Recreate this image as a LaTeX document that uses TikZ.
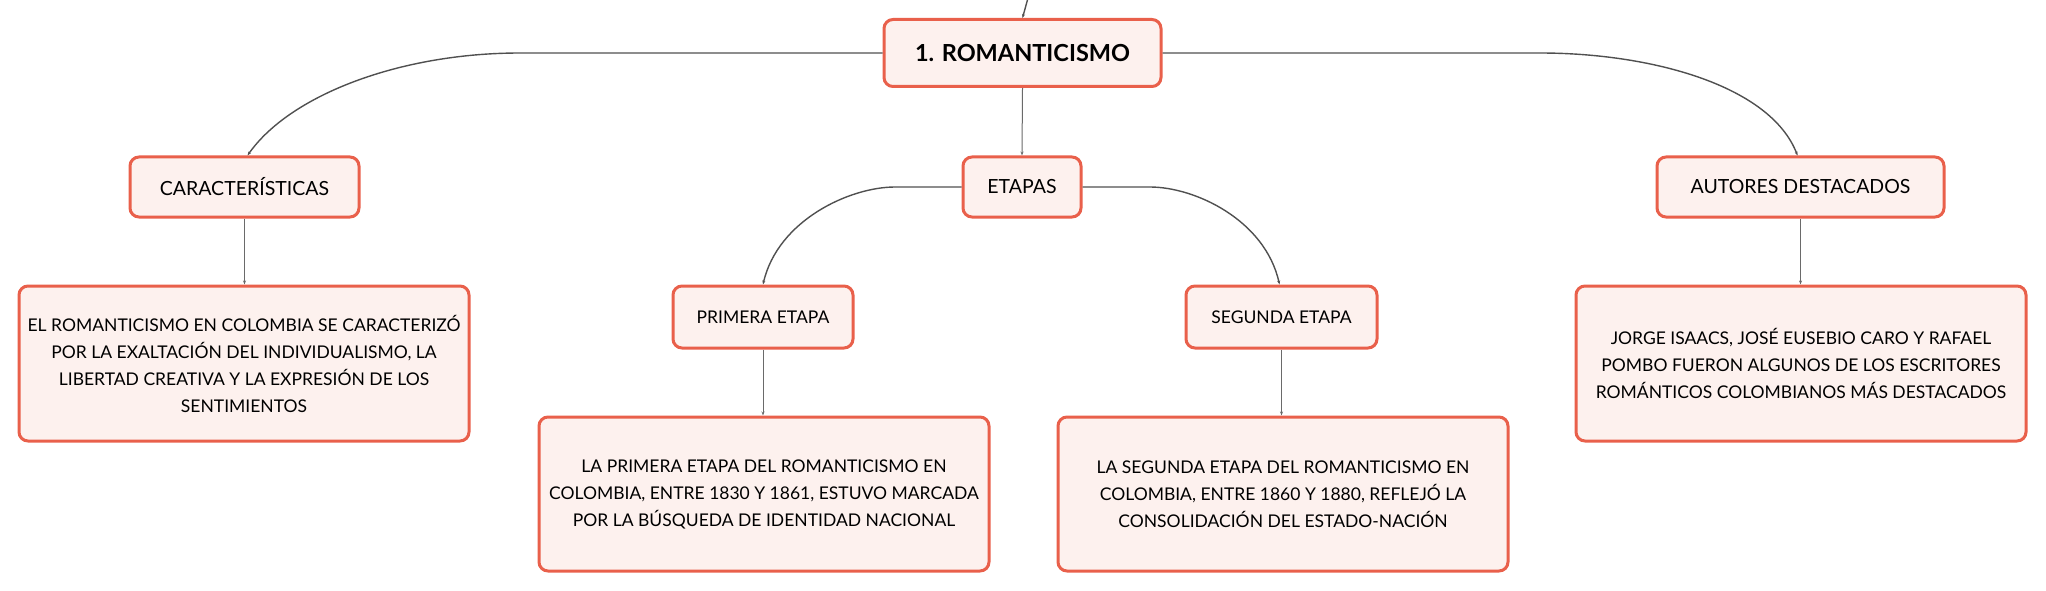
\documentclass[tikz,border=0pt]{standalone}
\usepackage{fontspec}
\setmainfont{Lato}
\usetikzlibrary{arrows.meta}
\definecolor{bord}{HTML}{E9604B}
\definecolor{boxfill}{HTML}{FDF1EE}
\definecolor{linec}{HTML}{505050}
\definecolor{vlinec}{HTML}{6A6A6A}
\begin{document}
\begin{tikzpicture}[x=1pt,y=-1pt,
  box/.style={draw=bord, line width=3pt, fill=boxfill, rounded corners=9pt,
    inner sep=0pt, align=center, font=\fontsize{17.5}{27}\selectfont},
  midbox/.style={box, font=\fontsize{19.5}{27}\selectfont},
  conn/.style={draw=linec, line width=1.4pt, -{Stealth[length=4pt,width=3pt]}},
  vconn/.style={draw=vlinec, line width=1pt, -{Stealth[length=4pt,width=3pt]}}]
\useasboundingbox (0,0) rectangle (2046,591);

% nodes
\node[box, minimum width=277pt, minimum height=67pt,
      font=\fontsize{23.5}{28}\selectfont\bfseries] (root) at (1022.5,53) {1. ROMANTICISMO};
\node[midbox, minimum width=229pt, minimum height=60pt] (car) at (244.5,187) {CARACTERÍSTICAS};
\node[midbox, minimum width=118pt, minimum height=60pt] (eta) at (1022,187) {ETAPAS};
\node[midbox, minimum width=287pt, minimum height=60pt] (aut) at (1800.5,187) {AUTORES DESTACADOS};
\node[box, minimum width=180pt, minimum height=62pt] (pri) at (763,317) {PRIMERA ETAPA};
\node[box, minimum width=191pt, minimum height=62pt] (seg) at (1281.5,317) {SEGUNDA ETAPA};

\node[box, minimum width=450pt, minimum height=155pt] (card) at (244,363.5)
  {EL ROMANTICISMO EN COLOMBIA SE CARACTERIZÓ\\POR LA EXALTACIÓN DEL INDIVIDUALISMO, LA\\LIBERTAD CREATIVA Y LA EXPRESIÓN DE LOS\\SENTIMIENTOS};
\node[box, minimum width=450pt, minimum height=155pt] (autd) at (1801,363.5)
  {JORGE ISAACS, JOSÉ EUSEBIO CARO Y RAFAEL\\POMBO FUERON ALGUNOS DE LOS ESCRITORES\\ROMÁNTICOS COLOMBIANOS MÁS DESTACADOS};
\node[box, minimum width=450pt, minimum height=154pt] (prid) at (764,494)
  {LA PRIMERA ETAPA DEL ROMANTICISMO EN\\COLOMBIA, ENTRE 1830 Y 1861, ESTUVO MARCADA\\POR LA BÚSQUEDA DE IDENTIDAD NACIONAL};
\node[box, minimum width=450pt, minimum height=154pt] (segd) at (1283,494)
  {LA SEGUNDA ETAPA DEL ROMANTICISMO EN\\COLOMBIA, ENTRE 1860 Y 1880, REFLEJÓ LA\\CONSOLIDACIÓN DEL ESTADO-NACIÓN};

% connectors
\coordinate (topin) at (1028,-2);
\draw[conn] (topin) -- (root.north);
\draw[conn] (root.west) -- (520,53) .. controls (400,53) and (290,95) .. ([xshift=3pt]car.north);
\draw[conn] (root.east) -- (1540,53) .. controls (1650,53) and (1770,85) .. ([xshift=-3pt]aut.north);
\draw[vconn] (root.south) -- (eta.north);
\draw[conn] (eta.west) -- (895,187) .. controls (850,187) and (778,220) .. (pri.north);
\draw[conn] (eta.east) -- (1150,187) .. controls (1195,187) and (1265,220) .. ([xshift=-2pt]seg.north);
\draw[vconn] (car.south) -- (car.south |- card.north);
\draw[vconn] (aut.south) -- (aut.south |- autd.north);
\draw[vconn] (pri.south) -- (pri.south |- prid.north);
\draw[vconn] (seg.south) -- (seg.south |- segd.north);
\end{tikzpicture}
\end{document}
